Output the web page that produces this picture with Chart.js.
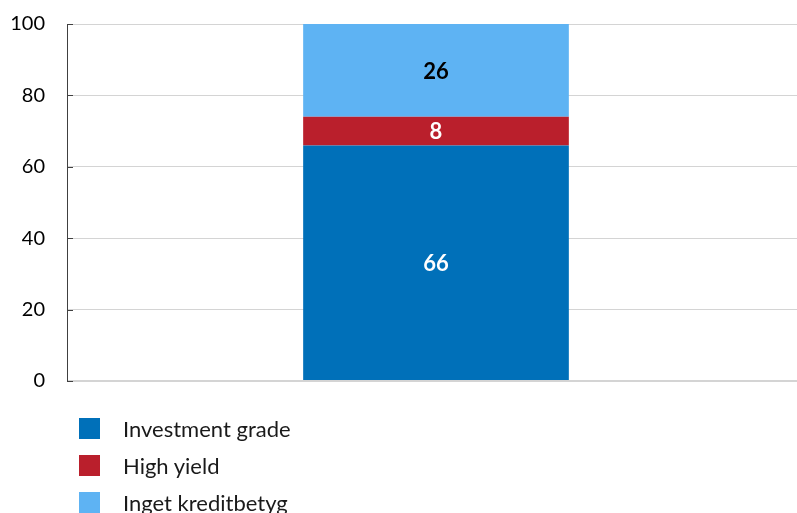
<!DOCTYPE html>
<html>
<head>
<meta charset="utf-8">
<title>Kreditbetyg</title>
<script src="https://cdn.jsdelivr.net/npm/chart.js@4.4.1/dist/chart.umd.min.js"></script>
<style>
    body { margin: 0; background: #fff; font-family: Lato, "Open Sans", sans-serif; }
    #wrap { position: relative; width: 797px; height: 513px; overflow: hidden; }
    canvas { position: absolute; left: 0; top: -10px; }
    #legend { position: absolute; left: 79px; top: 410px; }
    .item { display: flex; align-items: center; height: 37px; font-size: 22px; color: #1a1a1a; }
    .box { width: 21px; height: 21px; margin-right: 23px; }
</style>
</head>
<body>
<div id="wrap">
    <canvas id="myChart" width="805" height="425"></canvas>
    <div id="legend"></div>
</div>
<script>
// one stacked bar, shares in percent
var categories = [''];
var investmentGrade = [66];
var highYield = [8];
var ingetKreditbetyg = [26];
var yTicks = [0, 20, 40, 60, 80, 100];

var seriesNames = ['Investment grade', 'High yield', 'Inget kreditbetyg'];
var seriesColors = ['#0070b9', '#ba1f2c', '#5eb3f3'];
var labelColors = ['#ffffff', '#ffffff', '#000000'];

// value labels in the middle of each segment
var segmentLabels = {
    id: 'segmentLabels',
    afterDatasetsDraw(chart) {
        var ctx = chart.ctx;
        ctx.save();
        ctx.font = 'bold 22px Lato, sans-serif';
        ctx.textAlign = 'center';
        ctx.textBaseline = 'middle';
        chart.data.datasets.forEach((ds, i) => {
            chart.getDatasetMeta(i).data.forEach((bar, j) => {
                ctx.fillStyle = labelColors[i];
                ctx.fillText(ds.data[j], bar.x, (bar.y + bar.base) / 2 + 1);
            });
        });
        ctx.restore();
    }
};

// short tick marks on the inside of the y axis
var innerTicks = {
    id: 'innerTicks',
    afterDraw(chart) {
        var ctx = chart.ctx;
        var y = chart.scales.y;
        var left = chart.chartArea.left;
        ctx.save();
        ctx.strokeStyle = '#404040';
        ctx.lineWidth = 1;
        yTicks.forEach(v => {
            var py = Math.round(y.getPixelForValue(v)) + 0.5;
            ctx.beginPath();
            ctx.moveTo(left, py);
            ctx.lineTo(left + 6, py);
            ctx.stroke();
        });
        ctx.restore();
    }
};

var ctx = document.getElementById('myChart').getContext('2d');
var chart = new Chart(ctx, {
    type: 'bar',
    data: {
        labels: categories,
        datasets: [investmentGrade, highYield, ingetKreditbetyg].map((d, i) => ({
            label: seriesNames[i],
            data: d,
            backgroundColor: seriesColors[i],
            borderWidth: 0,
            barPercentage: 0.36,
            categoryPercentage: 1
        }))
    },
    options: {
        responsive: false,
        animation: false,
        devicePixelRatio: 1,
        layout: { padding: { top: 4, bottom: 0, right: 0 } },
        plugins: { legend: { display: false }, tooltip: { enabled: false } },
        scales: {
            x: { stacked: true, display: false },
            y: {
                stacked: true,
                min: 0,
                max: 100,
                afterBuildTicks: axis => { axis.ticks = yTicks.map(v => ({ value: v })); },
                afterFit: axis => { axis.width = 67; },
                ticks: {
                    padding: 22,
                    color: '#000',
                    font: { family: 'Lato, sans-serif', size: 20 }
                },
                grid: {
                    drawTicks: false,
                    color: '#d4d4d4',
                    lineWidth: c => c.tick && c.tick.value === 0 ? 2 : 1
                },
                border: { color: '#404040', width: 1 }
            }
        }
    },
    plugins: [segmentLabels, innerTicks]
});

// legend list under the chart
var legend = document.getElementById('legend');
seriesNames.forEach((name, i) => {
    var row = document.createElement('div');
    row.className = 'item';
    row.innerHTML = '<span class="box" style="background:' + seriesColors[i] + '"></span>' + name;
    legend.appendChild(row);
});
</script>
</body>
</html>
